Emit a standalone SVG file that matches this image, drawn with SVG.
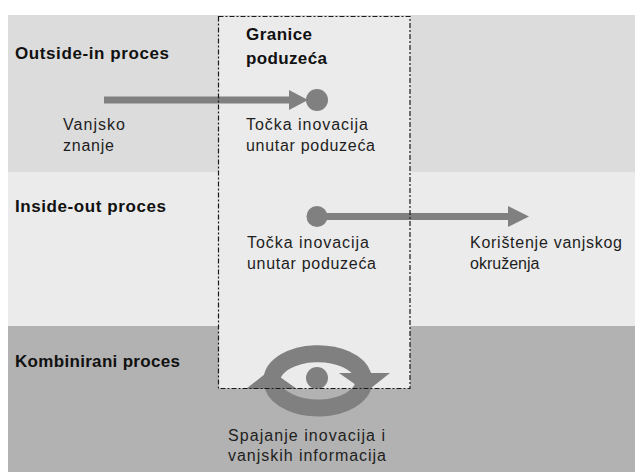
<svg xmlns="http://www.w3.org/2000/svg" width="635" height="472" viewBox="0 0 635 472">
<defs>
<style>
.lbl{font-family:"Liberation Sans",Arial,sans-serif;font-size:16px;fill:#1e1e1e}
.hd{font-family:"Liberation Sans",Arial,sans-serif;font-size:17px;font-weight:bold;fill:#111}
.g{fill:#808080}
.arc{fill:none;stroke:#808080;stroke-width:17}
.border{fill:none;stroke:#1a1a1a;stroke-width:1.2;stroke-dasharray:5 2 2 2}
</style>
</defs>
<rect width="635" height="472" fill="#ffffff"/>
<g id="bands">
<rect x="8" y="15" width="627" height="157" fill="#dcdcdc"/>
<rect x="8" y="172" width="627" height="154" fill="#ebebeb"/>
<rect x="8" y="326" width="627" height="146" fill="#b2b2b2"/>
</g>
<rect id="boundary-fill" x="218.5" y="16.5" width="191.5" height="372" fill="#ebebeb"/>

<g id="row-labels">
<text class="hd" x="15" y="59" textLength="154" lengthAdjust="spacing">Outside-in proces</text>
<text class="hd" x="15" y="212" textLength="151" lengthAdjust="spacing">Inside-out proces</text>
<text class="hd" x="15" y="367" textLength="165" lengthAdjust="spacing">Kombinirani proces</text>
</g>

<g id="boundary-title">
<text class="hd" x="246" y="40" textLength="66" lengthAdjust="spacing">Granice</text>
<text class="hd" x="246" y="64" textLength="81" lengthAdjust="spacing">poduzeća</text>
</g>

<g id="external-knowledge">
<text class="lbl" x="63" y="130" textLength="62" lengthAdjust="spacing">Vanjsko</text>
<text class="lbl" x="63" y="151" textLength="51" lengthAdjust="spacing">znanje</text>
</g>

<g id="innovation-point-1">
<circle class="g" cx="317" cy="100" r="11"/>
<text class="lbl" x="246" y="130" textLength="122" lengthAdjust="spacing">Točka inovacija</text>
<text class="lbl" x="246" y="151" textLength="129" lengthAdjust="spacing">unutar poduzeća</text>
</g>

<g id="innovation-point-2">
<circle class="g" cx="317" cy="216.5" r="10.5"/>
<text class="lbl" x="247" y="247.5" textLength="122" lengthAdjust="spacing">Točka inovacija</text>
<text class="lbl" x="247" y="269" textLength="129" lengthAdjust="spacing">unutar poduzeća</text>
</g>

<g id="external-use">
<text class="lbl" x="470" y="247.5" textLength="152" lengthAdjust="spacing">Korištenje vanjskog</text>
<text class="lbl" x="470" y="269">okruženja</text>
</g>

<g id="combined-cycle">
<path class="arc" d="M272,378.7 A46,27 0 0 1 363,375.4"/>
<polygon class="g" points="339,373 390,373 366,392"/>
<path class="arc" d="M363.8,383.3 A46,27 0 0 1 273,386.6"/>
<polygon class="g" points="297,389 246,389 270,370"/>
<circle class="g" cx="317" cy="378" r="11"/>
<text class="lbl" x="228" y="441" textLength="157" lengthAdjust="spacing">Spajanje inovacija i</text>
<text class="lbl" x="228" y="461" textLength="158" lengthAdjust="spacing">vanjskih informacija</text>
</g>

<g id="connectors">
<rect class="g" x="104" y="96.5" width="186" height="7"/>
<polygon class="g" points="289,90 289,110 308,100"/>
<rect class="g" x="317" y="213" width="192" height="7"/>
<polygon class="g" points="508,206 508,227 529,216.5"/>
</g>

<rect id="company-boundary" class="border" x="218.5" y="16.5" width="191.5" height="372"/>
</svg>
